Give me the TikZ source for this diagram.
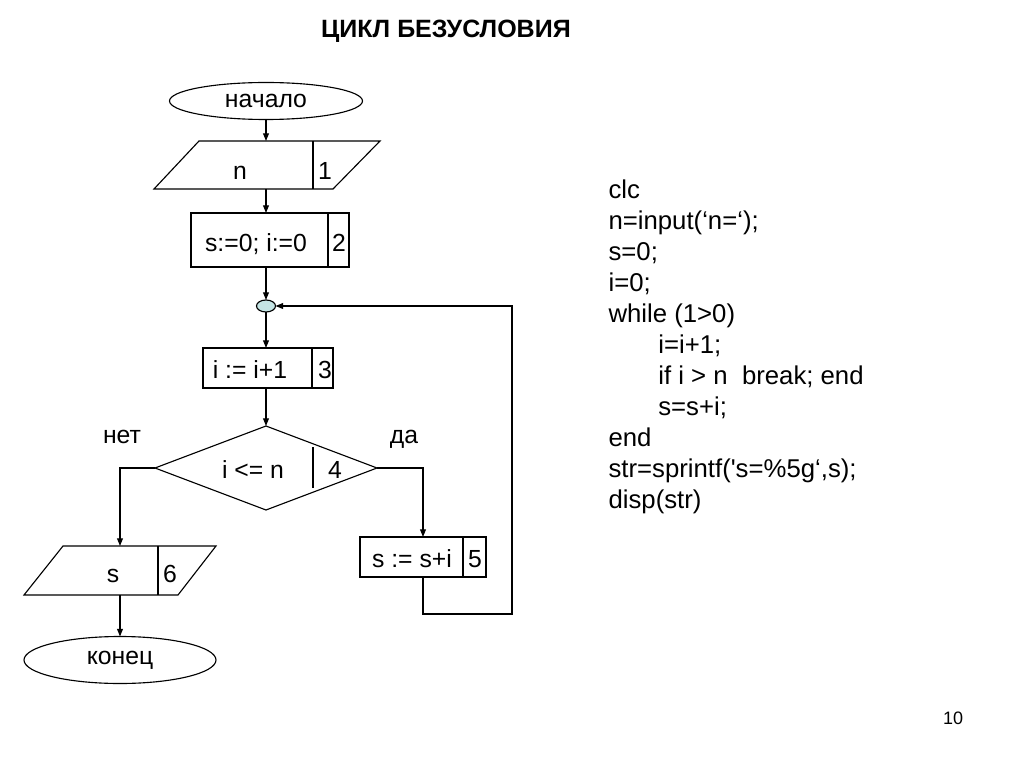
\documentclass[tikz,border=0pt]{standalone}
\usepackage{fontspec}
\setmainfont{Liberation Sans}
\usetikzlibrary{shapes.geometric,arrows.meta}
\definecolor{jointfill}{RGB}{196,228,228}
\begin{document}
\begin{tikzpicture}[x=0.025cm,y=-0.025cm,>={Triangle[length=5.5pt,width=4.2pt]},
                line width=0.8pt,font=\fontsize{17.6}{21}\selectfont,
                term/.style={ellipse,draw,inner sep=0pt,outer sep=0pt},
                proc/.style={rectangle,draw,inner sep=0pt,outer sep=0pt},
                io/.style={rectangle,inner sep=0pt,outer sep=0pt},
                cond/.style={diamond,draw,inner sep=0pt,outer sep=0pt},
                txt/.style={anchor=base,inner sep=0pt}]
                \def\u{0.025cm}
                \useasboundingbox (0,0) rectangle (1024,767);
                \node[txt,font=\bfseries\fontsize{17.8}{20}\selectfont] (title) at (446,38) {ЦИКЛ БЕЗУСЛОВИЯ};
                %===========================================
                \node[term,minimum width=193*\u,minimum height=37*\u] (beg) at (266,101) {начало};
                \node[io,minimum width=226*\u,minimum height=48*\u] (inp) at (267,165) {};
                \node[proc,minimum width=158*\u,minimum height=54*\u] (init) at (270,240) {};
                \node[term,fill=jointfill,minimum width=19*\u,minimum height=12*\u] (jn) at (266,306) {};
                \node[proc,minimum width=130*\u,minimum height=40*\u] (inc) at (268,368) {};
                \node[cond,minimum width=222*\u,minimum height=84*\u] (cmp) at (266,468) {};
                \node[proc,minimum width=126*\u,minimum height=40*\u] (add) at (423,557) {};
                \node[io,minimum width=192*\u,minimum height=49*\u] (out) at (120,570.5) {};
                \node[term,minimum width=192*\u,minimum height=47*\u] (fin) at (120,660) {конец};
                % parallelograms
                \draw ([xshift=45*\u]inp.north west)--(inp.north east)--([xshift=-47*\u]inp.south east)
                        --(inp.south west)--cycle;
                \draw ([xshift=39*\u]out.north west)--(out.north east)--([xshift=-38*\u]out.south east)
                        --(out.south west)--cycle;
                % dividers
                \draw (313,141)--(313,189) (328,213)--(328,267) (312,348)--(312,388)
                (313,447)--(313,488) (463,537)--(463,577) (158,546)--(158,595);
                % texts
                \node[txt] (inp-t) at (240,180) {n};
                \node[txt] (inp-n) at (325,180) {1};
                \node[txt] (init-t) at (256,252) {s:=0; i:=0};
                \node[txt] (init-n) at (339,252) {2};
                \node[txt] (inc-t) at (250,378) {i := i+1};
                \node[txt] (inc-n) at (325,378) {3};
                \node[txt] (cmp-t) at (253,478) {i <= n};
                \node[txt] (cmp-n) at (335,478) {4};
                \node[txt] (add-t) at (412,567) {s := s+i};
                \node[txt] (add-n) at (475,567) {5};
                \node[txt] (out-t) at (113,582) {s};
                \node[txt] (out-n) at (170,582) {6};
                \node[txt] (yes) at (404,443) {да};
                \node[txt] (no) at (122,443) {нет};
                %===========================================
                \draw[->] (beg)--(beg|-inp.north);
                \draw[->] (inp.south-|beg)--(beg|-init.north);
                \draw[->] (beg|-init.south)--(jn);
                \draw[->] (jn)--(jn|-inc.north);
                \draw[->] (jn|-inc.south)--(cmp);
                \draw[->] (cmp.east)-|(add.north);
                \coordinate (back) at (512,614);
                \draw[->] (add.south)|-(back)|-(jn);
                \draw[->] (cmp.west)-|(out.north);
                \draw[->] (out)--(fin);
                %===========================================
                \node[anchor=north west,inner sep=0pt,align=left,font=\fontsize{18.3}{22}\selectfont] (code) at (608,179.5)
                {clc\\
                n=input(‘n=‘);\\
                s=0;\\
                i=0;\\
                while (1>0)\\
                \hspace*{35.4pt}i=i+1;\\
                \hspace*{35.4pt}if i > n\ \ break; end\\
                \hspace*{35.4pt}s=s+i;\\
                end\\
                str=sprintf(\textquotesingle s=\%5g‘,s);\\
                disp(str)};
                \node[txt,font=\fontsize{12.8}{15}\selectfont] (page) at (953,724) {10};
\end{tikzpicture}
\end{document}
